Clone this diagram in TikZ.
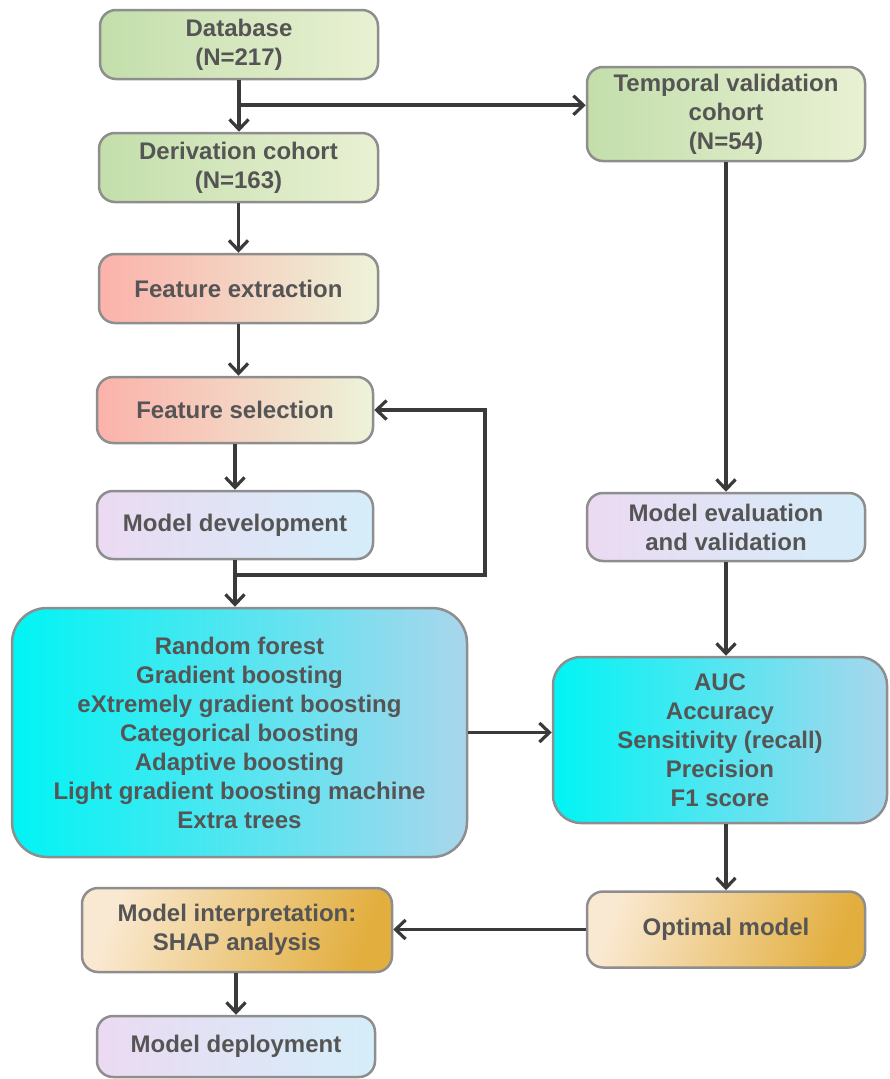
\documentclass[tikz,border=0pt]{standalone}
\usepackage{fontspec}
\setmainfont{Liberation Sans}
\usetikzlibrary{arrows.meta}
\definecolor{txt}{HTML}{555555}
\definecolor{bordc}{HTML}{8E8E8E}
\definecolor{arrc}{HTML}{3A3A3A}
\definecolor{grL}{HTML}{C3DEAB}
\definecolor{grR}{HTML}{E9F1D3}
\definecolor{pkL}{HTML}{FBB2AA}
\definecolor{pkM}{HTML}{F6E2CC}
\definecolor{pkR}{HTML}{EDF3D9}
\definecolor{lvL}{HTML}{EBDAF2}
\definecolor{lvR}{HTML}{D5EEF9}
\definecolor{cyL}{HTML}{00F4F4}
\definecolor{cyM}{HTML}{86EAF4}
\definecolor{cyR}{HTML}{A9D6EC}
\definecolor{orL}{HTML}{FAE9D2}
\definecolor{orR}{HTML}{E2AE3E}
\begin{document}
\begin{tikzpicture}[x=1pt,y=-1pt,
  box/.style={draw=bordc, line width=2.5pt, rounded corners=16pt, align=center,
    text=txt, font=\fontsize{24}{29}\selectfont\bfseries, inner sep=0pt},
  greenbox/.style={box, left color=grL, right color=grR},
  pinkbox/.style={box, left color=pkL, middle color=pkM, right color=pkR},
  lavbox/.style={box, left color=lvL, right color=lvR},
  cyanbox/.style={box, left color=cyL, middle color=cyM, right color=cyR},
  orbox/.style={box, top color=orL, bottom color=orR, shading angle=70},
  conn/.style={draw=arrc, line width=3.8pt},
  arr/.style={conn, -{Straight Barb[length=10pt,width=19pt,line width=3.2pt]}}
]
\useasboundingbox (0,0) rectangle (889,1079);

\node[greenbox, minimum width=278pt, minimum height=69pt] (db) at (239,44.5) {Database\\(N=217)};
\node[greenbox, minimum width=279pt, minimum height=69pt] (deriv) at (238.5,167.5) {Derivation cohort\\(N=163)};
\node[greenbox, minimum width=278pt, minimum height=94pt] (temp) at (726,114) {Temporal validation\\cohort\\(N=54)};
\node[pinkbox, minimum width=279pt, minimum height=69pt] (fe) at (238.5,288.5) {Feature extraction};
\node[pinkbox, minimum width=276pt, minimum height=66pt] (fs) at (235,410) {Feature selection};
\node[lavbox, minimum width=276pt, minimum height=68pt] (md) at (235,525) {Model development};
\node[cyanbox, rounded corners=35pt, minimum width=455pt, minimum height=249pt] (big) at (239.5,732.5)
  {Random forest\\Gradient boosting\\eXtremely gradient boosting\\Categorical boosting\\Adaptive boosting\\Light gradient boosting machine\\Extra trees};
\node[lavbox, minimum width=278pt, minimum height=68pt] (eval) at (726,527) {Model evaluation\\and validation};
\node[cyanbox, rounded corners=28pt, minimum width=334pt, minimum height=166pt] (met) at (720,740)
  {AUC\\Accuracy\\Sensitivity (recall)\\Precision\\F1 score};
\node[orbox, minimum width=278pt, minimum height=76pt] (opt) at (726,929.5) {Optimal model};
\node[orbox, minimum width=310pt, minimum height=84pt] (interp) at (237,930) {Model interpretation:\\SHAP analysis};
\node[lavbox, minimum width=278pt, minimum height=61pt] (dep) at (236,1046.5) {Model deployment};

% connectors
\draw[arr] (db.south) -- (db.south |- deriv.north);
\path (db.south) ++(0,25) coordinate (br);
\draw[arr] (br) -- (br -| temp.west);
\draw[arr] (fe.north |- deriv.south) -- (fe.north);
\draw[arr] (fe.south) -- (fe.south |- fs.north);
\draw[arr] (fs.south) -- (fs.south |- md.north);
\draw[arr] (md.south) -- (md.south |- big.north);
\path (md.south) ++(0,15) coordinate (fb);
\draw[arr] (fb) -- ++(250,0) |- (fs.east);
\draw[arr] (temp.south) -- (temp.south |- eval.north);
\draw[arr] (eval.south) -- (eval.south |- met.north);
\draw[arr] (big.east) -- (big.east -| met.west);
\draw[arr] (opt.north |- met.south) -- (opt.north);
\draw[arr] (opt.west) -- (opt.west -| interp.east);
\draw[arr] (interp.south -| dep.north) -- (dep.north);
\end{tikzpicture}
\end{document}
